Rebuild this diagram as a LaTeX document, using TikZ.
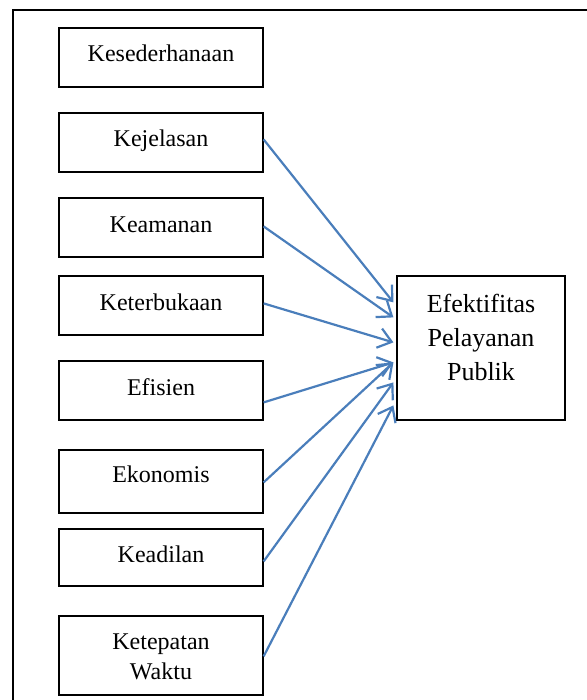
\documentclass[tikz,border=0pt]{standalone}
\usepackage{fontspec}
\setmainfont{Liberation Serif}
\usetikzlibrary{arrows.meta,calc}
\definecolor{arrowblue}{HTML}{4A7EBB}
\tikzset{
  box/.style={draw=black, line width=0.6pt, minimum width=102pt, inner sep=0pt, fill=white},
  lbl/.style={anchor=base, inner sep=0pt, font=\fontsize{12}{15}\selectfont, align=center},
  tbox/.style={draw=black, line width=0.6pt, minimum width=84pt, minimum height=72pt, inner sep=0pt},
  tlbl/.style={anchor=base, inner sep=0pt, font=\fontsize{13}{17}\selectfont, align=center},
  link/.style={draw=arrowblue, line width=1.1pt, -{Straight Barb[length=6.5pt,width=10pt,line width=1.1pt]}},
  frame/.style={draw=black, line width=1pt}
}
\begin{document}
\begin{tikzpicture}[x=0.5pt,y=-0.5pt]
\useasboundingbox (0,0) rectangle (586,700);
\draw[frame] (13,702) -- (13,10) -- (588,10);

% left boxes (centers in px)
\node[box, minimum height=29.5pt] (b1) at (161,57.5) {};
\node[box, minimum height=29.5pt] (b2) at (161,142.5) {};
\node[box, minimum height=29.5pt] (b3) at (161,227.5) {};
\node[box, minimum height=29.5pt] (b4) at (161,305.5) {};
\node[box, minimum height=29.5pt] (b5) at (161,390.5) {};
\node[box, minimum height=31.5pt] (b6) at (161,481.5) {};
\node[box, minimum height=28.5pt] (b7) at (161,557.5) {};
\node[box, minimum height=39.5pt] (b8) at (161,655.5) {};

\node[lbl] (l1) at (161,62) {Kesederhanaan};
\node[lbl] (l2) at (161,147) {Kejelasan};
\node[lbl] (l3) at (161,232) {Keamanan};
\node[lbl] (l4) at (161,310) {Keterbukaan};
\node[lbl] (l5) at (161,395) {Efisien};
\node[lbl] (l6) at (161,482) {Ekonomis};
\node[lbl] (l7) at (161,562) {Keadilan};
\node[lbl] (l8a) at (161,649) {Ketepatan};
\node[lbl] (l8b) at (161,679) {Waktu};

% target box
\node[tbox] (t) at (481,348) {};
\node[tlbl] (t1) at (481,312) {Efektifitas};
\node[tlbl] (t2) at (481,346) {Pelayanan};
\node[tlbl] (t3) at (481,380) {Publik};

% arrows
\draw[link] ($(b2.north east)+(0,27)$) -- ($(t.north west)+(-3,27)$);
\draw[link] ($(b3.north east)+(0,29)$) -- ($(t.north west)+(-3,42)$);
\draw[link] ($(b4.north east)+(0,28)$) -- ($(t.north west)+(-3,67)$);
\draw[link] ($(b5.north east)+(0,42)$) -- ($(t.north west)+(-3,87)$);
\draw[link] ($(b6.north east)+(0,33)$) -- ($(t.north west)+(-3,87)$);
\draw[link] ($(b7.north east)+(0,33)$) -- ($(t.north west)+(-3,107)$);
\draw[link] ($(b8.north east)+(0,41)$) -- ($(t.north west)+(-3,130)$);
\end{tikzpicture}
\end{document}
